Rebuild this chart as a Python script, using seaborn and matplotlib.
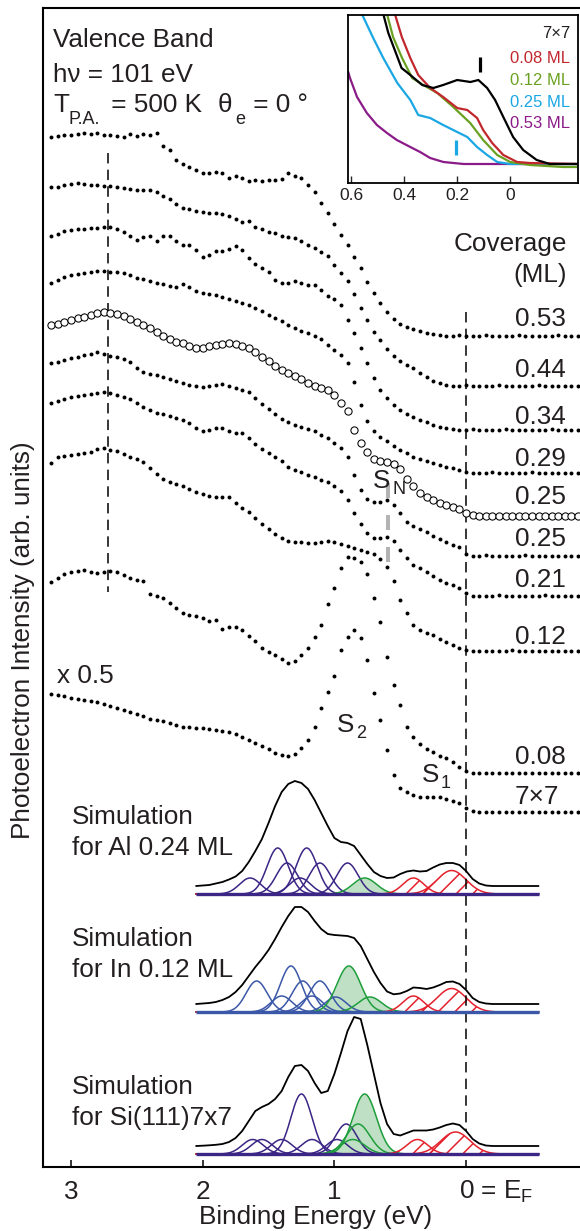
import numpy as np
import pandas as pd
import matplotlib
matplotlib.use("Agg")
import matplotlib.pyplot as plt
import matplotlib.transforms as mtransforms
import seaborn as sns

# ---------------- data ----------------
# measured valence-band spectra, sampled every 0.05 eV from 3.15 to -0.85 eV
energy = np.round(np.arange(3.15, -0.8501, -0.05), 2)

coverage_labels = ["0.53", "0.44", "0.34", "0.29", "0.25", "0.25", "0.21", "0.12", "0.08", "7×7"]
open_marker = [False, False, False, False, True, False, False, False, False, False]
offsets = [831, 781, 737, 694, 651, 611, 571, 516, 394, 355]

int_053 = [199,200,201,201,202,203,202,203,201,201,
           200,199,202,200,202,201,203,190,186,176,
           172,169,166,163,163,164,163,158,160,158,
           155,156,155,156,156,157,163,160,158,151,
           144,133,123,112,101,91,79,68,54,43,
           33,24,17,12,9,7,5,3,2,1,
           0,0,1,0,0,0,1,0,0,0,0,1,0,0,0,0,0,1,0,0,0]
int_044 = [199,199,201,202,203,202,201,201,200,200,
           199,198,197,196,196,196,194,190,187,182,
           178,177,175,174,173,173,172,170,167,164,
           165,159,157,154,153,150,149,148,145,141,
           138,134,130,121,113,105,92,78,66,54,
           46,37,30,25,21,18,13,9,5,3,
           1,0,0,1,0,0,0,0,1,0,0,0,0,0,1,0,0,0,0,0,0]
int_034 = [194,196,199,200,201,201,202,202,203,203,
           201,198,194,190,193,194,189,194,194,189,
           185,185,180,173,175,179,179,181,184,180,
           172,166,162,158,150,147,147,149,147,145,
           145,140,134,131,125,110,97,82,67,52,
           40,32,25,20,16,13,10,8,5,3,
           2,1,0,0,1,0,0,0,0,1,0,0,0,0,0,0,1,0,0,0,0]
int_029 = [190,193,196,198,199,200,201,202,202,201,
           201,200,198,195,194,192,190,189,187,186,
           189,186,182,180,179,178,176,174,172,170,
           168,165,162,158,155,152,148,145,142,140,
           137,134,128,123,118,110,91,68,52,42,
           36,32,27,23,20,16,14,12,10,8,
           6,5,3,1,0,0,0,1,0,0,0,0,0,1,0,0,0,0,0,0,0]
int_025o = [191,192,194,196,198,199,201,203,204,203,
            202,200,197,194,191,188,184,180,177,174,
            173,170,168,168,170,171,172,173,172,170,
            168,164,159,155,150,146,143,140,137,133,
            130,128,126,121,113,105,86,73,64,57,
            55,54,52,47,37,30,23,19,16,13,
            11,9,7,3,1,0,0,0,0,0,0,0,0,0,0,0,0,0,0,0,0]
int_025 = [193,194,196,198,199,201,202,204,202,200,
           199,197,194,188,184,182,181,179,177,175,
           173,171,170,169,170,171,172,170,168,166,
           164,158,152,147,142,137,134,131,129,127,
           125,121,118,113,108,99,81,66,57,54,
           54,56,51,43,34,30,27,24,20,17,
           14,11,9,2,0,0,1,0,0,0,0,0,1,0,0,0,0,0,0,0,0]
int_021 = [193,195,197,199,200,201,202,203,204,203,
           201,199,197,193,189,186,183,182,180,178,
           176,173,168,165,166,168,168,165,163,163,
           158,152,147,143,139,135,129,126,124,121,
           119,116,114,110,105,96,83,72,63,58,
           58,59,55,46,38,31,28,24,20,16,
           13,11,8,3,0,0,0,0,1,0,0,0,0,0,0,1,0,0,0,0,0]
int_012 = [188,194,195,196,197,198,199,202,203,201,
           200,197,194,192,189,183,177,172,169,167,
           165,162,159,157,155,154,154,154,148,143,
           139,133,127,122,117,113,110,109,109,108,
           108,109,110,109,107,105,103,101,99,97,
           92,84,70,51,38,26,21,18,16,12,
           9,6,3,1,0,0,0,0,0,0,1,0,0,0,0,0,0,0,0,0,0]
int_008 = [191,195,199,201,202,203,201,200,201,202,
           201,198,195,193,192,179,177,175,170,165,
           160,158,157,155,152,153,144,146,146,143,
           137,132,125,121,118,114,110,112,118,125,
           136,148,169,185,205,216,215,211,199,175,
           151,116,88,68,46,36,29,24,21,17,
           15,11,6,2,0,0,0,0,0,0,0,0,0,0,0,0,0,0,0,0,0]
int_7x7 = [118,117,116,114,113,112,111,110,108,106,
           104,102,100,98,96,93,92,91,89,87,
           85,85,84,84,83,82,81,80,78,75,
           72,69,66,63,59,57,56,58,64,72,
           85,104,120,136,162,175,182,174,152,119,
           92,62,37,24,20,17,15,15,15,15,
           13,11,9,4,1,0,0,0,0,0,0,0,0,0,0,0,0,0,0,0,0]
spectra = [int_053, int_044, int_034, int_029, int_025o, int_025,
           int_021, int_012, int_008, int_7x7]

# simulated spectra (total), sampled every 0.05 eV from 2.05 to -0.55 eV
sim_energy = np.round(np.arange(2.05, -0.5501, -0.05), 2)
al_total = [0,0.5,1,2.5,4,6.5,9.5,15,24,35,
            47,63,80,94,102,105,103,97,86,73,
            60,48,44,43,40,31,22,14,10,8,
            8.5,12,14.5,15.5,14.5,15,18.5,21.5,23,23,
            21,15,7,2.5,0.5,0,0,0,0,0,0,0,0]
in_total = [0,0.5,1,2,4,7,12,19,28,37,
            45,54,65,77,88,97,97,92,83,75,
            70,69,68.5,68,66,58,45,32,21,12.5,
            9.7,10.5,13,16.5,16,15,16.5,19,22,22.5,
            20,14,6,2,0.5,0,0,0,0,0,0,0,0]
si_total = [0,0.3,0.7,1.2,2,4,8,15,25,35,
            39,42,47,55,69,80,81,75,63,53,
            55,72,93,115,129,127,101,72,43,22,
            12,10.5,13,15.5,15.5,15.5,16.5,18.5,21,22.5,
            21,15,7,2.5,0.5,0,0,0,0,0,0,0,0]

# Gaussian components: centre (eV), height
al_bulk_c = [1.64, 1.43, 1.36, 1.26, 1.21, 1.11, 0.90]
al_bulk_h = [16, 46, 31, 16, 46, 31, 31]
al_green_c, al_green_h = [0.77], [16]
al_red_c, al_red_h = [0.40, 0.11], [16, 23.5]

in_bulk_c = [1.59, 1.40, 1.33, 1.24, 1.17, 1.11, 0.99]
in_bulk_h = [31, 16, 46, 31, 16, 31, 15]
in_green_c, in_green_h = [0.89, 0.73], [46, 15]
in_red_c, in_red_h = [0.40, 0.11], [16, 23.5]

si_bulk_c = [1.62, 1.55, 1.40, 1.25, 1.17, 0.98, 0.91]
si_bulk_h = [14.5, 14.5, 14.5, 60, 14.5, 14.5, 30]
si_green_c, si_green_h = [0.86, 0.82, 0.77], [14.5, 30, 60]
si_red_c, si_red_h = [0.37, 0.08], [14.5, 22]

bulk_w, green_w = 0.08, 0.09
red_w = [0.08, 0.11]

# inset: Fermi-edge region
ins_7x7_E = [0.49, 0.478, 0.46, 0.44, 0.41, 0.377, 0.332, 0.29, 0.253, 0.2, 0.15, 0.12, 0.087, 0.057, 0.026, -0.011, -0.049, -0.1, -0.15, -0.257]
ins_7x7_I = [175, 149, 131, 117, 96, 89, 79, 76, 79, 84, 82, 84, 76, 64, 47, 27, 14, 4, 0, 0]
ins_008_E = [0.445, 0.434, 0.409, 0.377, 0.347, 0.302, 0.253, 0.2, 0.162, 0.125, 0.102, 0.068, 0.026, -0.026, -0.075, -0.257]
ins_008_I = [170, 149, 127, 106, 89, 76, 67, 56, 54, 46, 34, 21, 9, 2, 1, 0]
ins_012_E = [0.475, 0.464, 0.442, 0.408, 0.37, 0.328, 0.275, 0.215, 0.151, 0.102, 0.049, 0.0, -0.075, -0.2, -0.257]
ins_012_I = [170, 149, 127, 106, 86, 79, 71, 57, 41, 24, 9, 2, -1, -3, -3]
ins_025_E = [0.57, 0.558, 0.517, 0.479, 0.426, 0.377, 0.347, 0.302, 0.253, 0.2, 0.162, 0.125, 0.087, 0.049, 0.0, -0.257]
ins_025_I = [170, 149, 126, 106, 81, 64, 49, 46, 39, 32, 27, 17, 9, 2, 0, 0]
ins_053_E = [0.611, 0.606, 0.578, 0.541, 0.503, 0.465, 0.428, 0.377, 0.34, 0.302, 0.252, 0.176, -0.257]
ins_053_I = [92, 87, 67, 51, 39, 31, 24, 17, 12, 6, 2, 0, 0]
inset_labels = ["7×7", "0.08 ML", "0.12 ML", "0.25 ML", "0.53 ML"]

# ---------------- style ----------------
W, H, DPI = 580, 1231, 100
sns.set_theme(style="white")
plt.rcParams["font.family"] = ["Liberation Sans", "DejaVu Sans"]
plt.rcParams["mathtext.fontset"] = "custom"
plt.rcParams["mathtext.rm"] = "Liberation Sans"
plt.rcParams["mathtext.it"] = "Liberation Sans:italic"
plt.rcParams["mathtext.bf"] = "Liberation Sans:bold"
plt.rcParams["lines.scale_dashes"] = False
plt.rcParams["hatch.linewidth"] = 1.1

FS = 18.8
FS_SUB = 13
TXT = "#231f20"
PURPLE = "#3b2585"
BLUE = "#3b57a7"
GREEN = "#1e9e3a"
GREEN_FILL = "#bfe0c4"
RED = "#e4212c"

fig = plt.figure(figsize=(W / DPI, H / DPI), dpi=DPI)
fig.patch.set_facecolor("white")

def fx(px):
    return px / W

def fy(py):
    return 1 - py / H

AX_L, AX_R, AX_T, AX_B = 43.3, 580, 8.3, 1167
ax = fig.add_axes([fx(AX_L), fy(AX_B), fx(AX_R) - fx(AX_L), fy(AX_T) - fy(AX_B)])
ax.set_xlim(3.21, -0.865)
ax.set_ylim(0, AX_B - AX_T)

def yd(py):
    return AX_B - py

# measured spectra
for vals, off, is_open in zip(spectra, offsets, open_marker):
    df = pd.DataFrame({"E": energy, "I": np.array(vals, float) + off})
    if is_open:
        sns.scatterplot(data=df, x="E", y="I", ax=ax, marker="o", s=27,
                        color="white", edgecolor="black", linewidth=0.75, zorder=4)
    else:
        sns.scatterplot(data=df, x="E", y="I", ax=ax, marker="o", s=8,
                        color="black", linewidth=0, zorder=4)

# simulations
Eg = np.linspace(2.05, -0.55, 521)

def gauss(c, h, w):
    return h * np.exp(-0.5 * ((Eg - c) / w) ** 2)

sims = [
    (al_total, 281, 273, PURPLE, al_bulk_c, al_bulk_h, al_green_c, al_green_h, al_red_c, al_red_h),
    (in_total, 163, 155, BLUE, in_bulk_c, in_bulk_h, in_green_c, in_green_h, in_red_c, in_red_h),
    (si_total, 21, 13, PURPLE, si_bulk_c, si_bulk_h, si_green_c, si_green_h, si_red_c, si_red_h),
]
for total, toff, coff, col, bc, bh, gc, gh, rc, rh in sims:
    for c, h in zip(gc, gh):
        g = gauss(c, h, green_w)
        ax.fill_between(Eg, coff, coff + g, color=GREEN_FILL, linewidth=0, zorder=1)
    for c, h, w in zip(rc, rh, red_w):
        g = gauss(c, h, w)
        ax.fill_between(Eg, coff, coff + g, facecolor="none", edgecolor=RED,
                        hatch="//", linewidth=0, zorder=1)
    for c, h in zip(bc, bh):
        ax.plot(Eg, coff + gauss(c, h, bulk_w), color=col, lw=1.1, zorder=2)
    for c, h in zip(gc, gh):
        ax.plot(Eg, coff + gauss(c, h, green_w), color=GREEN, lw=1.1, zorder=2)
    for c, h, w in zip(rc, rh, red_w):
        ax.plot(Eg, coff + gauss(c, h, w), color=RED, lw=1.1, zorder=2)
    ax.plot([2.05, -0.55], [coff, coff], color=col, lw=2.4, zorder=3, solid_capstyle="butt")
    sns.lineplot(x=sim_energy, y=np.array(total, float) + toff, ax=ax, color="black",
                 lw=1.3, sort=False, estimator=None, zorder=4)

# reference lines
ax.plot([0, 0], [yd(312), yd(1131)], color="black", lw=1.1, dashes=(7.5, 4.5), zorder=2)
ax.plot([2.72, 2.72], [yd(153), yd(592)], color="black", lw=1.1, dashes=(7.5, 4.5), zorder=2)
ax.plot([0.59, 0.59], [yd(562), yd(482)], color="#b3b3b3", lw=2.9, dashes=(10.8, 12.2), zorder=3)

# axes styling
for s in ["left", "bottom", "top"]:
    ax.spines[s].set_linewidth(1.5)
    ax.spines[s].set_color("black")
ax.spines["right"].set_visible(False)
ax.set_yticks([])
ax.set_xticks([3, 2, 1, 0])
ax.set_xticklabels(["3", "2", "1", "0 = E$_\\mathrm{F}$"])
ax.tick_params(axis="x", direction="in", length=5, width=1.1, pad=23,
               labelsize=FS, labelcolor=TXT, color="black", bottom=True)
for lbl in ax.get_xticklabels():
    lbl.set_verticalalignment("baseline")
last = ax.get_xticklabels()[-1]
last.set_horizontalalignment("left")
last.set_transform(last.get_transform() + mtransforms.ScaledTranslation(-7 / DPI, 0, fig.dpi_scale_trans))

ax.set_xlabel("Binding Energy (eV)", fontsize=FS, color=TXT, va="baseline")
ax.xaxis.set_label_coords((316 - AX_L) / (AX_R - AX_L), -(1224 - AX_B) / (AX_B - AX_T))
ax.set_ylabel("Photoelectron Intensity (arb. units)", fontsize=FS, color=TXT, va="center")
ax.yaxis.set_label_coords((23 - AX_L) / (AX_R - AX_L), (AX_B - 640) / (AX_B - AX_T))

# texts
def ftext(x, y, s, **kw):
    kw.setdefault("fontsize", FS)
    kw.setdefault("color", TXT)
    kw.setdefault("va", "baseline")
    fig.text(fx(x), fy(y), s, **kw)

ftext(53, 47, "Valence Band")
ftext(53, 82, "hν = 101 eV")
ftext(53, 112, "T")
ftext(69, 124, "P.A.", fontsize=FS_SUB)
ftext(104, 112, " = 500 K")
ftext(218, 112, "θ")
ftext(235, 124, "e", fontsize=FS_SUB)
ftext(246, 112, " = 0 °")
ftext(567, 251, "Coverage", ha="right")
ftext(567, 282, "(ML)", ha="right")
label_base = [326, 377, 424, 466, 504, 546, 587, 644, 764, 804]
label_right = [566, 566, 566, 566, 566, 566, 566, 566, 566, 559]
for lab, yb, xr in zip(coverage_labels, label_base, label_right):
    ftext(xr, yb, lab, ha="right")
ftext(57, 683, "x 0.5")
ftext(373, 488, "S")
ftext(392, 494, "N", fontsize=FS_SUB)
ftext(337, 732, "S")
ftext(356, 738, "2", fontsize=FS_SUB)
ftext(422, 782, "S")
ftext(441, 788, "1", fontsize=FS_SUB)
ftext(72, 824, "Simulation")
ftext(72, 855, "for Al 0.24 ML")
ftext(72, 946, "Simulation")
ftext(72, 977, "for In 0.12 ML")
ftext(72, 1094, "Simulation")
ftext(72, 1125, "for Si(111)7x7")

# ---------------- inset ----------------
IL, IR, IT, IB = 348.3, 578.3, 15, 182.7
axi = fig.add_axes([fx(IL), fy(IB), fx(IR) - fx(IL), fy(IT) - fy(IB)])
axi.set_xlim(0.611, -0.257)
axi.set_ylim(-18.7, 149)
inset_series = [
    (ins_7x7_E, ins_7x7_I, "black"),
    (ins_008_E, ins_008_I, "#c1272d"),
    (ins_012_E, ins_012_I, "#6aa121"),
    (ins_025_E, ins_025_I, "#1aa7e4"),
    (ins_053_E, ins_053_I, "#8a1b88"),
]
for e, i, c in inset_series[::-1]:
    sns.lineplot(x=e, y=i, ax=axi, color=c, lw=1.6, sort=False, estimator=None)
axi.plot([0.113, 0.113], [92, 107], color="black", lw=2.3, solid_capstyle="butt")
axi.plot([0.204, 0.204], [9, 24], color="#1aa7e4", lw=2.3, solid_capstyle="butt")
for s in axi.spines.values():
    s.set_linewidth(1.3)
    s.set_color("black")
axi.set_yticks([])
axi.set_xticks([0.6, 0.4, 0.2, 0])
axi.set_xticklabels(["0.6", "0.4", "0.2", "0"])
axi.tick_params(axis="x", direction="in", length=5, width=1.0, pad=4,
                labelsize=12.5, labelcolor=TXT, bottom=True)
ins_base = [38, 63, 85, 107, 128]
for (e, i, c), lab, yb in zip(inset_series, inset_labels, ins_base):
    ftext(570, yb, lab, ha="right", fontsize=12, color=c if c != "black" else TXT)

fig.savefig("out.png", dpi=DPI)
